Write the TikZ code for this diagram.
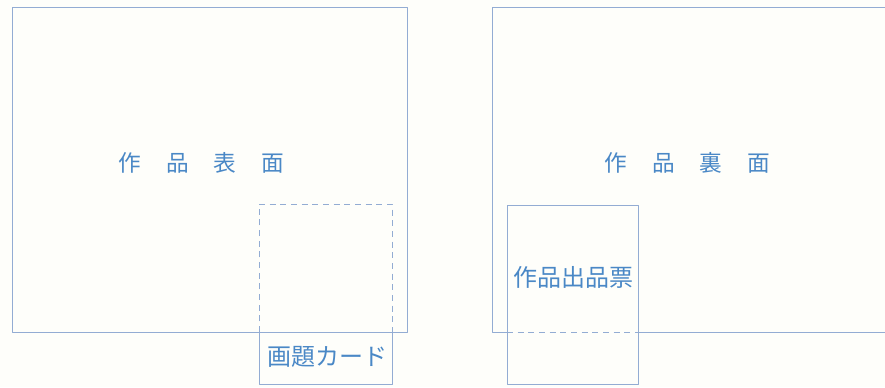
\documentclass[tikz,border=0pt]{standalone}
\usepackage{fontspec}
\newfontfamily\jp{Noto Sans CJK JP}
\definecolor{frameblue}{HTML}{93ACD3}
\definecolor{textblue}{HTML}{4A88C6}
\definecolor{paper}{HTML}{FEFEFA}
\begin{document}
\begin{tikzpicture}[x=.75pt, y=-.75pt, line join=round, line width=.7pt,
	frame/.style={draw=frameblue},
	cut/.style={draw=frameblue, dash pattern=on 4.5pt off 3.5pt},
	label/.style={font=\jp\fontsize{17}{17}\selectfont, text=textblue, inner sep=0pt}]
	\fill[paper] (0,0) rectangle (885,387);
	\useasboundingbox (0,0) rectangle (885,387);
	\clip (0,0) rectangle (885,387);
	% front side with title card
	\path (12,7) coordinate (FA) (407,332) coordinate (FB)
	(259,204) coordinate (CA) (392,384) coordinate (CB);
	\draw[frame] (FA) rectangle (FB);
	\draw[cut] (CA|-FB)--(CA)--(CB|-CA)--(CB|-FB);
	\draw[frame] (CA|-FB)--(CA|-CB)--(CB)--(CB|-FB);
	\node[label] (front) at (201.5,163) {作\kern1.1em 品\kern1.1em 表\kern1.1em 面};
	\node[label, font=\jp\fontsize{18}{18}\selectfont] (card) at (327,357) {画題カード};
	% back side with entry slip
	\path (492,7) coordinate (BA) (900,332) coordinate (BB)
	(507,205) coordinate (SA) (638,384) coordinate (SB);
	\draw[frame] (SA|-BB)--(BA|-BB)--(BA)--(BB|-BA);
	\draw[frame] (SB|-BB)--(BB);
	\draw[cut] (SA|-BB)--(SB|-BB);
	\draw[frame] (SA) rectangle (SB);
	\node[label] (back) at (687.5,163) {作\kern1.1em 品\kern1.1em 裏\kern1.1em 面};
	\node[label, font=\jp\fontsize{18}{18}\selectfont] (slip) at (573,277) {作品出品票};
\end{tikzpicture}
\end{document}
